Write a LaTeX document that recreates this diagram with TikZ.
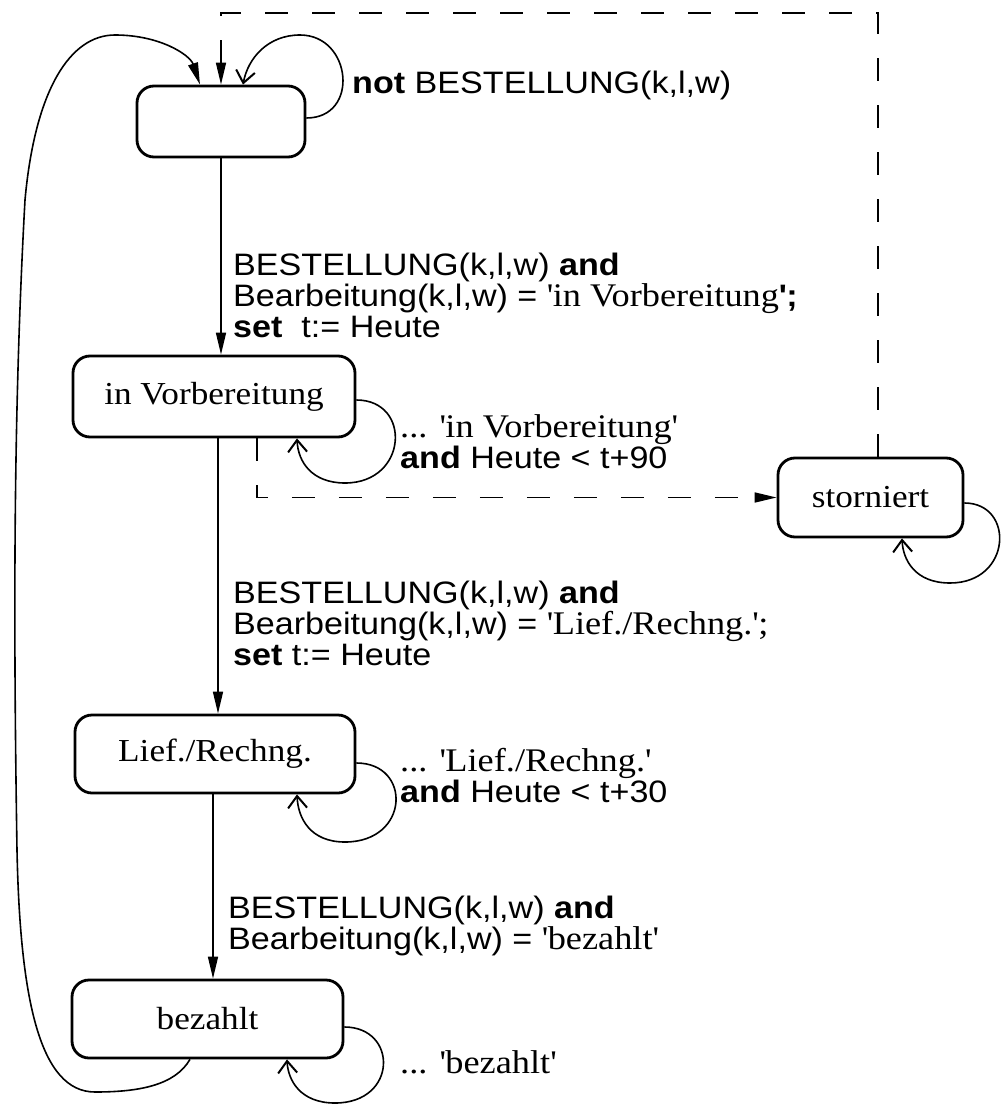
\documentclass[tikz,border=0pt]{standalone}
\usepackage{fontspec}
\setmainfont{Liberation Serif}[FakeStretch=1.1]
\newfontfamily\sansf{Liberation Sans}[FakeStretch=1.1]
\usetikzlibrary{arrows.meta}
\newcommand\qs{\textquotesingle}
\newcommand\tms[1]{{\rmfamily\fontsize{33}{31}\selectfont#1}}
\begin{document}
\begin{tikzpicture}[x=1pt,y=-1pt,
  state/.style={draw,line width=2.8pt,rounded corners=17pt,inner sep=0pt,
    font=\fontsize{32}{36}\selectfont},
  conn/.style={line width=1.6pt},
  tri/.style={conn,-{Triangle[length=22pt,width=10pt]}},
  barb/.style={conn,-{Straight Barb[length=12pt,width=19pt,line width=2pt]}},
  dashconn/.style={conn,dash pattern=on 23pt off 24pt,-{Triangle[length=22pt,width=10pt]}},
  lbl/.style={font=\sansf\fontsize{31}{31}\selectfont,align=left,inner sep=0pt,anchor=west}]
\useasboundingbox (0,0) rectangle (1004,1105);

% states
\node[state,minimum width=168pt,minimum height=71pt] (A) at (221,121.5) {};
\node[state,minimum width=282pt,minimum height=81pt] (B) at (214,396.5) {in Vorbereitung};
\node[state,minimum width=280pt,minimum height=78pt] (C) at (215,754) {Lief./Rechng.};
\node[state,minimum width=271pt,minimum height=78pt] (D) at (207.5,1019) {bezahlt};
\node[state,minimum width=185pt,minimum height=79pt] (S) at (870.5,497.5) {storniert};

% helper coordinates
\coordinate (tl) at (221,13);
\coordinate (bc) at (218,0);
\coordinate (cd) at (213,0);

% main transitions
\draw[tri] (A.south) -- (A.south |- B.north);
\draw[tri] (B.south -| bc) -- (C.north -| bc);
\draw[tri] (C.south -| cd) -- (D.north -| cd);

% back to the start
\draw[tri] ([xshift=-17.5pt]D.south) .. controls (175,1085) and (140,1092) .. (95,1092)
  .. controls (40,1092) and (20,1000) .. (17,850)
  .. controls (13,600) and (14,400) .. (25,200)
  .. controls (35,90) and (70,35) .. (115,35)
  .. controls (160,35) and (190,55) .. ([xshift=-21pt]A.north);

% cancellation
\draw[dashconn] ([xshift=43pt]B.south) |- (S.west);
\draw[dashconn] ([xshift=7.5pt]S.north) |- (tl) -- (A.north);

% self loops
\draw[barb] ([yshift=3.5pt]A.east) .. controls (360,118) and (352,35) .. (300,35)
  .. controls (268,35) and (248,58) .. ([xshift=22pt]A.north);
\draw[barb] ([yshift=-3.5pt]B.east) .. controls (412,400) and (408,483) .. (345,483)
  .. controls (312,483) and (298,462) .. ([xshift=83pt]B.south);
\draw[barb] ([yshift=-9pt]C.east) .. controls (412,763) and (410,842) .. (345,842)
  .. controls (310,842) and (298,818) .. ([xshift=82pt]C.south);
\draw[barb] ([yshift=-8pt]D.east) .. controls (398,1027) and (398,1103) .. (335,1103)
  .. controls (300,1103) and (288,1080) .. ([xshift=79.5pt]D.south);
\draw[barb] ([yshift=-5.5pt]S.east) .. controls (1015,503) and (1012,583) .. (950,583)
  .. controls (915,583) and (903,560) .. ([xshift=31.5pt]S.south);

% labels
\node[lbl] (l0) at (352,85) {\textbf{not} BESTELLUNG(k,l,w)};
\node[lbl] (l1) at (233,295) {BESTELLUNG(k,l,w) \textbf{and}\\
  Bearbeitung(k,l,w) = \tms{\qs in Vorbereitung}\textbf{\qs;}\\
  \textbf{set}\ \ t:= Heute};
\node[lbl] (lb) at (400,442) {\tms{... \qs in Vorbereitung\qs}\\
  \textbf{and} Heute < t+90};
\node[lbl] (l2) at (233,623) {BESTELLUNG(k,l,w) \textbf{and}\\
  Bearbeitung(k,l,w) = \tms{\qs Lief./Rechng.\qs;}\\
  \textbf{set} t:= Heute};
\node[lbl] (lc) at (400,776) {\tms{... \qs Lief./Rechng.\qs}\\
  \textbf{and} Heute < t+30};
\node[lbl] (l3) at (228,926) {BESTELLUNG(k,l,w) \textbf{and}\\
  Bearbeitung(k,l,w) = \tms{\qs bezahlt\qs}};
\node[lbl] (ld) at (400,1062) {\tms{... \qs bezahlt\qs}};
\end{tikzpicture}
\end{document}
